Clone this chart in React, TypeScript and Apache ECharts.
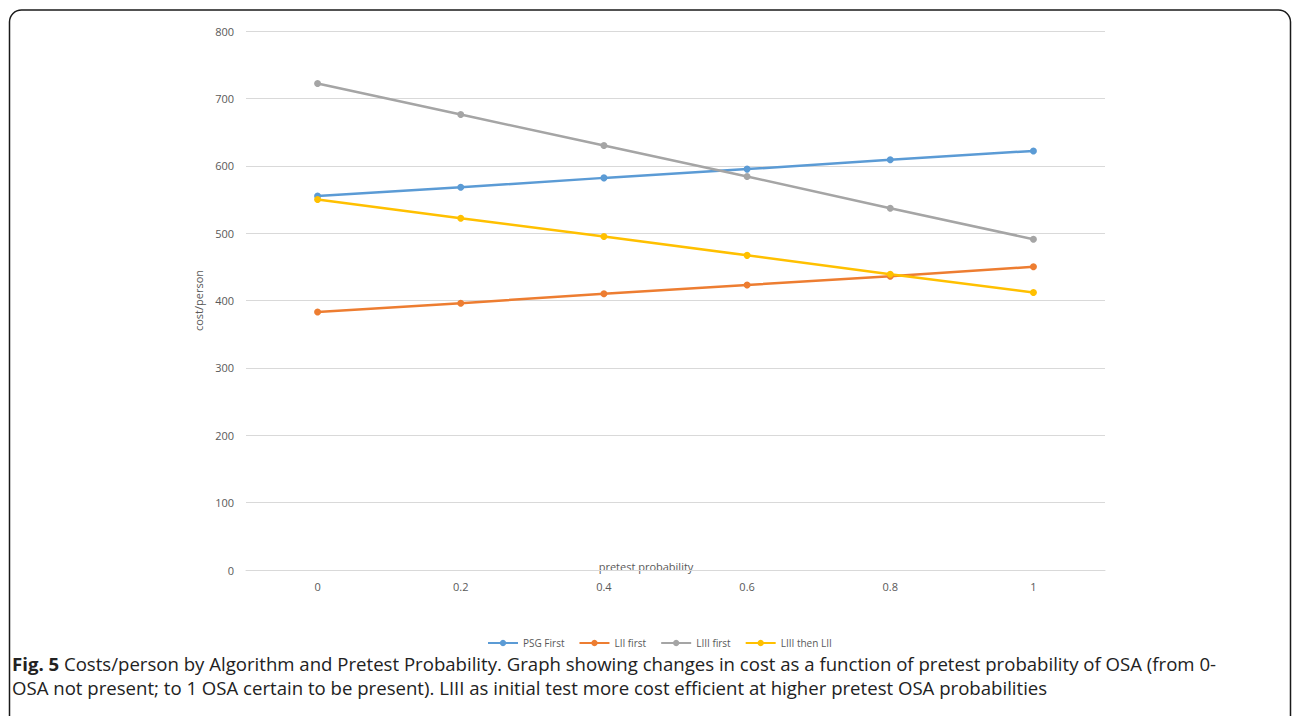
import React, { useEffect, useRef } from "react";
import * as echarts from "echarts";

const categories = ["0", "0.2", "0.4", "0.6", "0.8", "1"];
const psgFirst = [555, 568, 582, 595, 609, 622];
const liiFirst = [383, 396, 410, 423, 436, 450];
const liiiFirst = [722, 676, 630, 584, 537, 491];
const liiiThenLii = [550, 522, 495, 467, 439, 412];
const seriesNames = ["PSG First", "LII first", "LIII first", "LIII then LII"];
const colors = ["#5B9BD5", "#ED7D31", "#A5A5A5", "#FFC000"];
const captionLine1 =
  " Costs/person by Algorithm and Pretest Probability. Graph showing changes in cost as a function of pretest probability of OSA (from 0-";
const captionLine2 =
  "OSA not present; to 1 OSA certain to be present). LIII as initial test more cost efficient at higher pretest OSA probabilities";

export default function App() {
  const ref = useRef<HTMLDivElement>(null);
  useEffect(() => {
    if (!ref.current) return;
    const chart = echarts.init(ref.current, null, { renderer: "svg" });
    const data = [psgFirst, liiFirst, liiiFirst, liiiThenLii];
    chart.setOption({
      animation: false,
      backgroundColor: "#ffffff",
      textStyle: { fontFamily: "Open Sans" },
      grid: { left: 246, right: 187, top: 31, bottom: 146 },
      legend: {
        left: 482,
        top: 633,
        itemWidth: 30,
        itemHeight: 8,
        itemGap: 14,
        textStyle: { fontSize: 10, color: "#595959", fontFamily: "Open Sans" },
        data: seriesNames,
      },
      xAxis: {
        type: "category",
        data: categories,
        boundaryGap: true,
        axisLine: { show: true, lineStyle: { color: "#d9d9d9", width: 1 } },
        axisTick: { show: false },
        axisLabel: { fontSize: 11, color: "#595959", margin: 11 },
        splitLine: { show: false },
      },
      yAxis: {
        type: "value",
        min: 0,
        max: 800,
        interval: 100,
        name: "cost/person",
        nameLocation: "middle",
        nameRotate: 90,
        nameGap: 40,
        nameTextStyle: { fontSize: 11, color: "#595959" },
        axisLine: { show: false },
        axisTick: { show: false },
        axisLabel: { fontSize: 11, color: "#595959", margin: 12 },
        splitLine: { lineStyle: { color: "#d9d9d9", width: 1 } },
      },
      series: data.map((d, i) => ({
        name: seriesNames[i],
        type: "line",
        data: d,
        symbol: "circle",
        symbolSize: 7,
        lineStyle: { width: 2.5, color: colors[i] },
        itemStyle: { color: colors[i] },
      })),
      graphic: [
        {
          type: "rect",
          shape: { x: 9.5, y: 10, width: 1281, height: 740, r: 12 },
          style: { fill: "none", stroke: "#1a1a1a", lineWidth: 1.5 },
          silent: true,
        },
        {
          type: "text",
          x: 646,
          y: 566,
          style: {
            text: "pretest probability",
            fontSize: 11,
            fill: "#595959",
            fontFamily: "Open Sans",
            align: "center",
            verticalAlign: "middle",
          },
        },
        {
          type: "text",
          x: 12,
          y: 651,
          style: {
            text: "{b|Fig. 5}" + captionLine1 + "\n" + captionLine2,
            fontSize: 18.6,
            lineHeight: 24,
            fill: "#222222",
            fontFamily: "Open Sans",
            verticalAlign: "top",
            rich: {
              b: { fontSize: 18.6, lineHeight: 24, fontWeight: "bold", fill: "#222222", fontFamily: "Open Sans" },
            },
          },
        },
      ],
    });
    return () => chart.dispose();
  }, []);
  return (
    <div
      ref={ref}
      style={{ position: "fixed", left: 0, top: 0, width: 1292, height: 716 }}
    />
  );
}
